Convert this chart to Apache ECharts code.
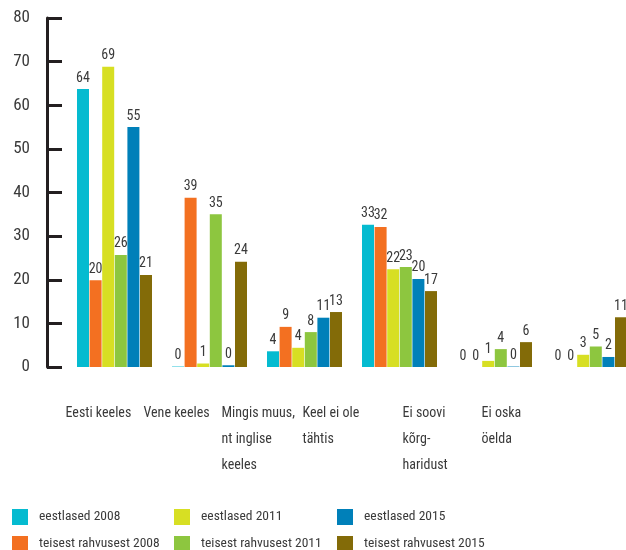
<!DOCTYPE html>
<html>
<head>
<meta charset="utf-8">
<script src="https://cdn.jsdelivr.net/npm/echarts@6/dist/echarts.min.js"></script>
<style>html,body{margin:0;padding:0;background:#fff}#c{width:626px;height:550px}</style>
</head>
<body>
<div id="c"></div>
<script>
const categories = ['Eesti keeles', 'Vene keeles', 'Mingis muus,\nnt inglise\nkeeles', 'Keel ei ole\ntähtis', 'Ei soovi\nkõrg-\nharidust', 'Ei oska\nöelda'];
const yTicks = [0, 10, 20, 30, 40, 50, 60, 70, 80];
const eestlased2008 = [63.7, 0.1, 3.6, 32.6, 0, 0];
const teisest2008 = [19.9, 38.8, 9.2, 32.1, 0, 0];
const eestlased2011 = [68.8, 0.8, 4.4, 22.4, 1.4, 2.8];
const teisest2011 = [25.7, 35.0, 8.0, 22.9, 4.1, 4.7];
const eestlased2015 = [55.0, 0.4, 11.3, 20.2, 0.1, 2.3];
const teisest2015 = [21.1, 24.1, 12.6, 17.4, 5.7, 11.4];
const labelShift = [-49, -66, -83, -97, -92, -108];

const FONT = "'Roboto Condensed', 'Liberation Sans Narrow', sans-serif";
const TXT = '#3a3a3a';

const seriesDefs = [
  ['eestlased 2008', eestlased2008, '#05bbd0'],
  ['teisest rahvusest 2008', teisest2008, '#f37021'],
  ['eestlased 2011', eestlased2011, '#d7df23'],
  ['teisest rahvusest 2011', teisest2011, '#8dc63f'],
  ['eestlased 2015', eestlased2015, '#0080b9'],
  ['teisest rahvusest 2015', teisest2015, '#836b08']
];
const legendSpots = [
  ['eestlased 2008', 12, 509], ['eestlased 2011', 174, 509], ['eestlased 2015', 337, 509],
  ['teisest rahvusest 2008', 12, 536], ['teisest rahvusest 2011', 174, 536], ['teisest rahvusest 2015', 337, 536]
];

const chart = echarts.init(document.getElementById('c'));
chart.setOption({
  animation: false,
  grid: { left: 114.5, top: 18, width: 475, bottom: 183, containLabel: false },
  legend: legendSpots.map(([name, left, top]) => ({
    left: left, top: top, padding: 0,
    itemWidth: 16, itemHeight: 16, icon: 'rect', selectedMode: false,
    textStyle: { fontFamily: FONT, fontSize: 13.5, color: TXT, padding: [0, 0, 0, 6] },
    data: [name]
  })),
  xAxis: {
    type: 'category', boundaryGap: false,
    data: categories.map((c, i) => ({ value: c, textStyle: { align: 'left', padding: [0, 0, 0, labelShift[i]] } })),
    axisLine: { show: false }, axisTick: { show: false },
    axisLabel: { interval: 0, align: 'left', verticalAlign: 'top', margin: 33, fontFamily: FONT, fontSize: 14, lineHeight: 26, color: TXT }
  },
  yAxis: {
    type: 'value', min: yTicks[0], max: yTicks[yTicks.length - 1], interval: 10, offset: 67.5,
    axisLine: { show: true, lineStyle: { color: '#231f20', width: 3 } },
    axisTick: { show: true, inside: true, length: 15, lineStyle: { color: '#231f20', width: 3 } },
    splitLine: { show: false },
    axisLabel: { margin: 17, fontFamily: FONT, fontSize: 17, color: TXT }
  },
  series: seriesDefs.map(([name, data, color]) => ({
    name: name, type: 'bar', data: data, barWidth: 12, barGap: '5%',
    itemStyle: { color: color },
    label: { show: true, position: 'top', distance: 4, fontFamily: FONT, fontSize: 14, color: TXT,
      formatter: p => String(Math.round(p.value)) }
  }))
});
</script>
</body>
</html>
